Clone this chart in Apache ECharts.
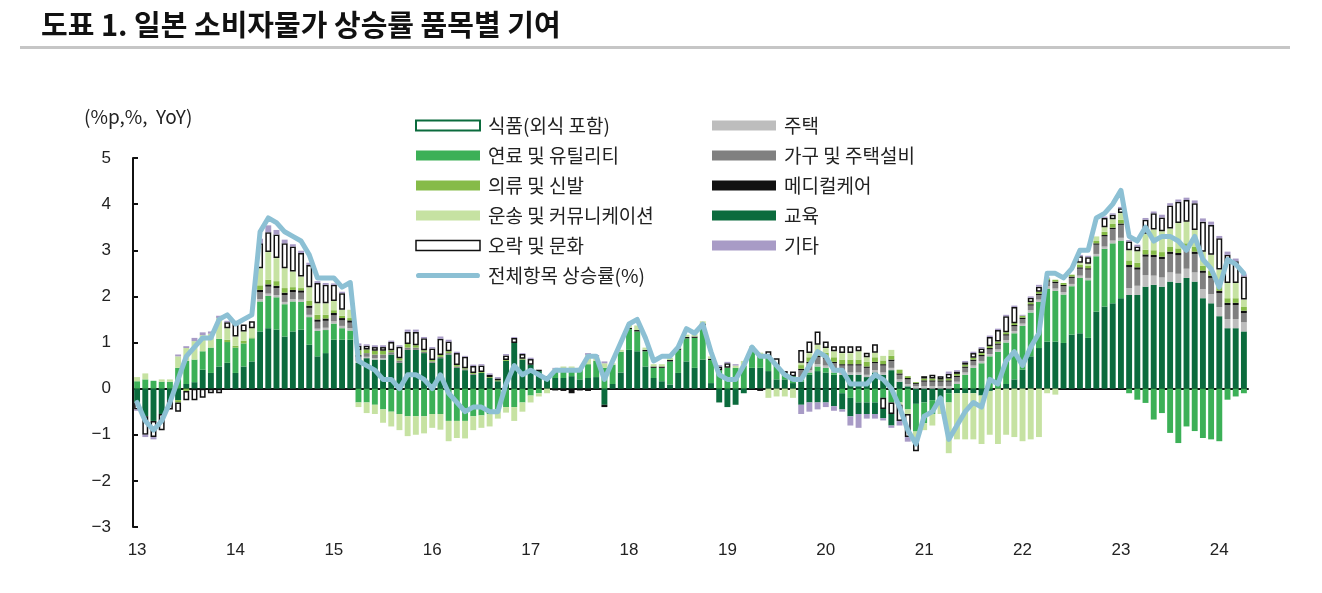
<!DOCTYPE html>
<html><head><meta charset="utf-8">
<script src="https://cdn.jsdelivr.net/npm/echarts@6/dist/echarts.min.js"></script>
<style>html,body{margin:0;padding:0;background:#fff}#c{width:1322px;height:593px}</style>
</head><body><div id="c"></div><script>
// months 2013-01 .. 2024-04
const months = [];
for (let y = 2013; y <= 2024; y++) for (let m = 1; m <= 12; m++) { if (y === 2024 && m > 4) break; months.push(y + '-' + (m < 10 ? '0' + m : m)); }

const food = [
 -0.3,-0.6,-0.7,-0.55,-0.25,-0.25,0.1,0.14,0.41,0.34,0.48,0.56,
 0.34,0.48,0.59,1.24,1.31,1.28,1.13,1.24,1.28,0.95,0.7,0.77,
 1.06,1.06,1.06,0.56,0.66,0.63,0.63,0.74,0.56,0.84,0.84,0.77,
 0.56,0.66,0.74,0.45,0.4,0.3,0.34,0.23,0.16,0.6,0.99,0.63,
 0.52,0.38,0.2,0.23,0.23,0.27,0.2,0.23,0.25,-0.35,0.1,0.35,
 0.84,0.81,0.48,0.23,0.16,0.09,0.34,0.59,0.45,0.63,0.12,-0.3,
 -0.4,-0.35,-0.1,0.45,0.45,0.38,0.2,0.2,0.12,0.15,0.3,0.38,
 0.35,0.3,0.3,0.3,0.3,0.25,0.35,0.3,0.4,0.15,0.05,-0.33,
 -0.3,-0.25,-0.2,-0.1,-0.1,-0.1,-0.1,-0.15,-0.05,0,0.1,0.2,
 0.41,0.7,0.88,1.02,1.02,0.99,1.17,1.2,1.1,1.67,1.78,1.85,
 1.96,2.03,2.03,2.21,2.25,2.21,2.32,2.29,2.4,2.32,1.96,1.85,
 1.57,1.31,1.31,1.24];
const energy = [
 0.16,0.2,0.17,0.15,0.15,0.45,0.5,0.49,0.4,0.55,0.6,0.45,
 0.55,0.5,0.5,0.65,0.7,0.7,0.7,0.65,0.6,0.6,0.55,0.5,
 0.35,0.25,0.2,-0.3,-0.3,-0.35,-0.45,-0.5,-0.55,-0.6,-0.6,-0.6,
 -0.55,-0.55,-0.7,-0.7,-0.7,-0.6,-0.58,-0.55,-0.45,-0.4,-0.4,-0.3,
 -0.15,-0.1,0.05,0.15,0.2,0.18,0.22,0.3,0.35,0.45,0.42,0.45,
 0.45,0.43,0.33,0.22,0.29,0.5,0.5,0.5,0.65,0.75,0.5,0.4,
 0.45,0.45,0.5,0.4,0.25,0.3,0.3,0.13,0.15,0.05,0.05,0.1,
 0.1,0.05,-0.1,-0.2,-0.3,-0.3,-0.3,-0.2,-0.3,-0.3,-0.45,-0.6,
 -0.45,-0.3,-0.15,-0.2,0.1,0.3,0.45,0.55,0.7,0.8,0.9,1.0,
 0.95,0.95,1.0,1.15,1.1,1.05,1.05,1.2,1.25,1.2,1.25,1.3,
 1.25,-0.1,-0.24,-0.31,-0.67,-0.53,-0.96,-1.18,-0.82,-0.92,-1.07,-1.1,
 -1.14,-0.24,-0.17,-0.1];
const housing = [
 0,0,0,0,0,0,0,0,0,0,0,0,
 0,0,0,0.05,0.05,0.05,0.05,0.05,0.05,0.05,0.05,0.05,
 0.05,0.05,0.05,0.03,0.03,0.03,0.03,0,0,0,0,0,
 0,0,0,0,0,0,0,0,0,0,0,0,
 0,0,0,0,0,0,0,0,0,0,0,0,
 0,0,0,0,0,0,0,0,0,0,0,0,
 0,0,0,0,0,0,0,0,0,0.05,0.05,0.05,
 0.05,0.05,0.05,0.05,0.05,0.05,0.05,0.05,0.05,0.05,0.05,0.05,
 0.05,0.05,0.05,0.05,0.05,0.05,0.05,0.05,0.05,0.05,0.05,0.05,
 0.05,0.05,0.05,0.05,0.05,0.05,0.05,0.05,0.05,0.05,0.05,0.06,
 0.06,0.15,0.2,0.25,0.2,0.2,0.2,0.2,0.2,0.2,0.2,0.2,
 0.2,0.2,0.2,0.2];
const furniture = [
 0,0,0,0,0,0,0,0,0,0,0,0,
 0,0,0,0.15,0.15,0.15,0.15,0.15,0.15,0.15,0.15,0.15,
 0.13,0.12,0.12,0.1,0.08,0.08,0.08,0.05,0.05,0.05,0.05,0.03,
 0.03,0.03,0.03,0.03,0.02,0.02,0,0,0,0,0,0,
 0,0,0,0,0,0,0,0,0,0,0,0,
 0,0,0,0,0,0,0,0,0,0,0,0,
 0,0,0,0,0,0,0,0,0,0.15,0.15,0.15,
 0.15,0.15,0.15,0.15,0.15,0.15,0.15,0.15,0.15,0.1,0.1,0.05,
 0.1,0.1,0.1,0.1,0.1,0.1,0.1,0.1,0.1,0.1,0.1,0.1,
 0.1,0.1,0.1,0.1,0.12,0.13,0.13,0.15,0.18,0.2,0.22,0.25,
 0.28,0.45,0.35,0.4,0.4,0.4,0.4,0.4,0.4,0.4,0.35,0.35,
 0.3,0.3,0.3,0.2];
const medical = [
 0,0,0,0,0,0,0,0,0,0,0,0,
 0,0,0,0.05,0.05,0.05,0.05,0.05,0.05,0.05,0.05,0.05,
 0.05,0.05,0.05,0.04,0,0,0,0,0,0,0,0,
 0,0,0,0,0,0,0,0,0,0,0,0,
 0,0.03,0,0,-0.05,-0.1,0,0,0,-0.05,0,0,
 0.03,0.03,0.03,0.03,0.03,0.03,0.03,0.03,0.03,0.03,0.03,0,
 0,0,0,0,0.03,0.03,0,0,0,0.03,0.03,0.03,
 0.03,0.03,0.03,0.03,0.03,0.03,0.03,0.03,0.03,0.03,0.03,0.02,
 0.03,0.03,0.03,0.03,0.03,0.03,0.03,0.03,0.03,0.03,0.03,0.03,
 0.03,0.03,0.03,0.03,0.03,0.03,0.03,0.03,0.03,0.03,0.03,0.03,
 0.03,0.05,0.05,0.05,0.05,0.05,0.05,0.05,0.05,0.05,0.05,0.05,
 0.05,0.05,0.05,0.05];
const clothing = [
 0,0,0,0,0,-0.05,-0.05,0,0,0,0,0.05,
 0.04,0.06,0.02,0.1,0.1,0.1,0.1,0.06,0.05,0.1,0.1,0.08,
 0.06,0.05,0.05,0.1,0.08,0.08,0.08,0.04,0.05,0.08,0.05,0.03,
 0.03,0.04,0.04,0.03,0.02,0.02,0.02,0.02,0.02,0.02,0,0.02,
 0,0,0,0,0,0,0,0,0,0,0,0,
 0,0,0,0,0,0,0,0,0,0,0,0,
 0,0,0,0,0,0,0,0,0,0.08,0.1,0.1,
 0.1,0.1,0.1,0.1,0.1,0.1,0.1,0.08,0.08,0.08,0.04,0.02,
 0.04,0.04,0.02,0.04,0.04,0.04,0.04,0.04,0.04,0.04,0.04,0.04,
 0.04,0.04,0.04,0.04,0.04,0.04,0.04,0.05,0.05,0.05,0.07,0.08,
 0.08,0.1,0.1,0.1,0.1,0.1,0.1,0.1,0.1,0.1,0.1,0.1,
 0.1,0.1,0.1,0.08];
const transport = [
 0.09,0.13,0,0.05,0.05,0.25,0.28,0.4,0.35,0.3,0.45,0.25,
 0.2,0.2,0.2,0.37,0.6,0.5,0.43,0.34,0.25,0.3,0.25,0.25,
 0.2,0.13,0.18,-0.1,-0.23,-0.2,-0.29,-0.32,-0.35,-0.43,-0.4,-0.37,
 -0.3,-0.34,-0.44,-0.37,-0.38,-0.3,-0.27,-0.27,-0.2,-0.12,-0.3,-0.2,
 -0.15,-0.07,-0.1,0.05,0.05,0.03,0.03,0.2,0.1,0.1,0.03,0.04,
 0.08,0.1,0.05,0.05,0.05,0.05,0.03,0.05,0.05,0.05,0.05,0,
 0,0.05,0.1,0.07,0.05,-0.2,-0.17,-0.17,-0.2,0.05,0.09,0.14,
 0.1,0.13,0.14,0.14,0.18,0.1,0.1,0.1,0.13,-0.05,-0.1,-0.25,
 -0.15,-0.25,-0.2,-1.1,-1.0,-1.0,-1.0,-1.05,-0.95,-1.2,-1.0,-1.05,
 -1.14,-1.1,-1.05,-0.1,-0.13,0,0,0.05,0.05,0.1,0.1,0.1,
 0.15,0.22,0.25,0.35,0.45,0.45,0.4,0.55,0.47,0.37,0.31,0.35,
 0.36,0.33,0.33,0.16];
const recreation = [
 -0.15,-0.4,-0.35,-0.35,-0.2,-0.2,-0.2,-0.25,-0.2,-0.1,-0.1,0.13,
 0.29,0.15,0.15,0.54,0.43,0.51,0.54,0.54,0.51,0.48,0.44,0.4,
 0.35,0.36,0,0.1,0.08,0.08,0.08,0.18,0.25,0.26,0.29,0.26,
 0.25,0.35,0.21,0.26,0.25,0.15,0.14,0.05,0.04,0.1,0.11,0.1,
 0.12,0,0.02,-0.04,0,0,-0.04,-0.05,0,0,0,0,
 0,0,0,0,0,0,0,0,0,0,0,0.08,
 0.1,0,0,0,-0.05,0.1,0.16,0.05,0.1,0.28,0.25,0.29,
 0.14,0.11,0.15,0.15,0.11,0.1,0.18,-0.24,-0.25,-0.35,-0.5,-0.18,
 0.05,0.08,0.07,0.1,0.05,0.05,0.1,0.1,0.2,0.25,0.35,0.35,
 0,0.1,0.11,0,0,0,0,0.14,0.14,0,0.2,0.1,
 0.1,0.19,0.1,0.3,0.35,0.3,0.5,0.46,0.47,0.58,0.65,0.65,
 0.68,0.61,0.47,0.5];
const education = [
 0,0,0,0,0,0,0,0,0,0,0,0,
 0,0,0,0,0,0,0,0,0,0,0,0,
 0,0,0,0,0,0,0,0,0,0,0,0,
 0,0,0,0,0,0,0,0,0,0,0,0,
 0,0,0,0,0,0,0,0,0,0,0,0,
 0,0,0,0,0,0,0,0,0,0,0,0,
 0,0,0,0,0,0,0,0,0,-0.35,-0.3,-0.3,
 -0.3,-0.38,-0.35,-0.4,-0.25,-0.25,-0.25,-0.2,-0.25,0,0,0,
 0,0,0,0,0,0,0,0,0,0,0,0,
 0,0,0,0,0,0,0,0,0,0,0,0,
 0,0,0,0,0,0,0,0,0,0,0,0,
 0,0,0,0];
const other = [
 -0.03,-0.05,-0.05,0,0,0.04,0.04,0.07,0.06,0.05,0.05,0.03,
 0,0,0,0.1,0.15,0.1,0.08,0.05,0.05,0.05,0.04,0.04,
 0.03,0.03,0,0.05,0.03,0.04,0.04,0.03,0.03,0.05,0.05,0.03,
 0.03,0.05,0.04,0.03,0.02,0.03,0.03,0.03,0.03,0.03,0.02,0.02,
 0.03,0,0,0.02,0,0,0,0.04,0.03,0.04,0,0,
 0,0,0,0,0,0,0,0,0,0,0,0.03,
 0.03,0.03,0,0,0,0,0,0,0,-0.2,-0.2,-0.15,
 -0.1,-0.1,-0.05,-0.2,-0.3,-0.1,-0.1,-0.05,-0.05,-0.1,-0.1,0,
 0,0,0,0.05,0.03,0.03,0.03,0.03,0.03,0.03,0.03,0.03,
 0.02,0.03,0.04,0.02,0,0,0,0.03,0.03,0,0.03,0.03,
 0.03,0.03,0.04,0.04,0.04,0.06,0.05,0.05,0.05,0.06,0.07,0.07,
 0.05,0.07,0.06,0.05];
const total = [
 -0.3,-0.7,-0.9,-0.7,-0.3,0.2,0.7,0.9,1.1,1.1,1.5,1.6,
 1.4,1.5,1.6,3.4,3.7,3.6,3.4,3.3,3.2,2.9,2.4,2.4,
 2.4,2.2,2.3,0.6,0.5,0.4,0.2,0.2,0.0,0.3,0.3,0.2,
 0.0,0.3,-0.1,-0.3,-0.5,-0.4,-0.4,-0.5,-0.5,0.1,0.5,0.3,
 0.4,0.3,0.2,0.4,0.4,0.4,0.4,0.7,0.7,0.2,0.6,1.0,
 1.4,1.5,1.1,0.6,0.7,0.7,0.9,1.3,1.2,1.4,0.8,0.3,
 0.2,0.2,0.5,0.9,0.7,0.7,0.5,0.3,0.2,0.2,0.5,0.8,
 0.7,0.4,0.4,0.1,0.1,0.1,0.3,0.2,0.0,-0.4,-0.9,-1.2,
 -0.6,-0.5,-0.2,-1.1,-0.8,-0.5,-0.3,-0.4,0.2,0.1,0.6,0.8,
 0.5,0.9,1.2,2.5,2.5,2.4,2.6,3.0,3.0,3.7,3.8,4.0,
 4.3,3.3,3.2,3.5,3.2,3.3,3.3,3.2,3.0,3.3,2.8,2.6,
 2.2,2.8,2.7,2.5];

const yTicks = { min: -3, max: 5, interval: 1 };
const names = {
  food: '식품(외식 포함)', energy: '연료 및 유틸리티', clothing: '의류 및 신발',
  transport: '운송 및 커뮤니케이션', recreation: '오락 및 문화', total: '전체항목 상승률(%)',
  housing: '주택', furniture: '가구 및 주택설비', medical: '메디컬케어', education: '교육', other: '기타'
};

const FONT = '"Noto Sans CJK KR", "Noto Sans", sans-serif';
const NUMFONT = '"Liberation Sans", Arial, sans-serif';
const LINE_COLOR = '#8cc0d4';
const clean = a => a.map(v => (v === 0 ? '-' : v));
function bar(name, data, color, extra) {
  return Object.assign({
    type: 'bar', name: name, stack: 'cpi', data: clean(data), barWidth: '72%',
    itemStyle: { color: color }, emphasis: { disabled: true }, animation: false
  }, extra || {});
}
const legendText = { fontFamily: FONT, fontSize: 19, color: '#222', lineHeight: 18, padding: [0, 0, 0, 3] };

const chart = echarts.init(document.getElementById('c'), null, { renderer: 'canvas' });
chart.setOption({
  backgroundColor: '#fff',
  animation: false,
  title: {
    text: '도표 1. 일본 소비자물가 상승률 품목별 기여', left: 36, top: 5,
    textStyle: { fontFamily: FONT, fontSize: 29, fontWeight: 'bold', color: '#111' }
  },
  graphic: [
    { type: 'rect', left: 20, top: 46, shape: { width: 1270, height: 3 }, style: { fill: '#c6c6c6' } },
    { type: 'text', left: 84, top: 107, style: { text: '(%p,%,  YoY)', font: '19px ' + FONT, fill: '#222' } }
  ],
  legend: [
    {
      orient: 'vertical', left: 415, top: 116, padding: 0, itemWidth: 64, itemHeight: 10, itemGap: 11,
      selectedMode: false, textStyle: legendText,
      data: [
        { name: names.food, icon: 'rect', itemStyle: { color: '#fff', borderColor: '#0b6b3d', borderWidth: 2 } },
        { name: names.energy, icon: 'rect' },
        { name: names.clothing, icon: 'rect' },
        { name: names.transport, icon: 'rect' },
        { name: names.recreation, icon: 'rect', itemStyle: { color: '#fff', borderColor: '#111', borderWidth: 1.5 } },
        { name: names.total, icon: 'path://M5,0 H121 A5,5 0 0 1 121,10 H5 A5,5 0 0 1 5,0 Z', itemStyle: { color: LINE_COLOR } }
      ]
    },
    {
      orient: 'vertical', left: 712, top: 116, padding: 0, itemWidth: 64, itemHeight: 10, itemGap: 11,
      selectedMode: false, textStyle: legendText,
      data: [
        { name: names.housing, icon: 'rect' },
        { name: names.furniture, icon: 'rect' },
        { name: names.medical, icon: 'rect' },
        { name: names.education, icon: 'rect' },
        { name: names.other, icon: 'rect' }
      ]
    }
  ],
  grid: { left: 133, right: 74, top: 158, bottom: 66, containLabel: false, outerBoundsMode: 'none' },
  xAxis: [
    {
      type: 'category', data: months, boundaryGap: true,
      axisLine: { onZero: true, lineStyle: { color: '#111', width: 2 } },
      axisTick: { interval: 11, length: 7, lineStyle: { color: '#111', width: 2.5 } },
      axisLabel: {
        interval: 11, margin: 15, fontFamily: NUMFONT, fontSize: 17, color: '#222',
        formatter: v => v.slice(2, 4)
      }
    },
    {
      type: 'category', data: months, boundaryGap: true, position: 'top',
      axisLine: { show: false, onZero: true },
      axisTick: { interval: 11, length: 6, lineStyle: { color: '#111', width: 2.5 } },
      axisLabel: { show: false }
    }
  ],
  yAxis: {
    type: 'value', min: yTicks.min, max: yTicks.max, interval: yTicks.interval,
    splitLine: { show: false },
    axisLine: { show: true, lineStyle: { color: '#111', width: 2 } },
    axisTick: { show: true, inside: true, length: 5, lineStyle: { color: '#111', width: 2 } },
    axisLabel: {
      margin: 22, fontFamily: NUMFONT, fontSize: 17, color: '#222',
      formatter: v => String(v).replace('-', '\u2212')
    }
  },
  series: [
    bar(names.food, food, '#0b6b3d'),
    bar(names.energy, energy, '#3cb057'),
    bar(names.housing, housing, '#bdbdbd'),
    bar(names.furniture, furniture, '#808080'),
    bar(names.medical, medical, '#111111'),
    bar(names.clothing, clothing, '#86bb48'),
    bar(names.transport, transport, '#c6e2a2'),
    bar(names.recreation, recreation, '#ffffff', { itemStyle: { color: '#fff', borderColor: '#111', borderWidth: 1.5 } }),
    bar(names.education, education, '#0b6b3d'),
    bar(names.other, other, '#a89bc6'),
    {
      type: 'line', name: names.total, data: total, symbol: 'none', z: 5,
      lineStyle: { color: LINE_COLOR, width: 5, cap: 'round', join: 'round' },
      itemStyle: { color: LINE_COLOR }, emphasis: { disabled: true }
    }
  ]
});
</script></body></html>
